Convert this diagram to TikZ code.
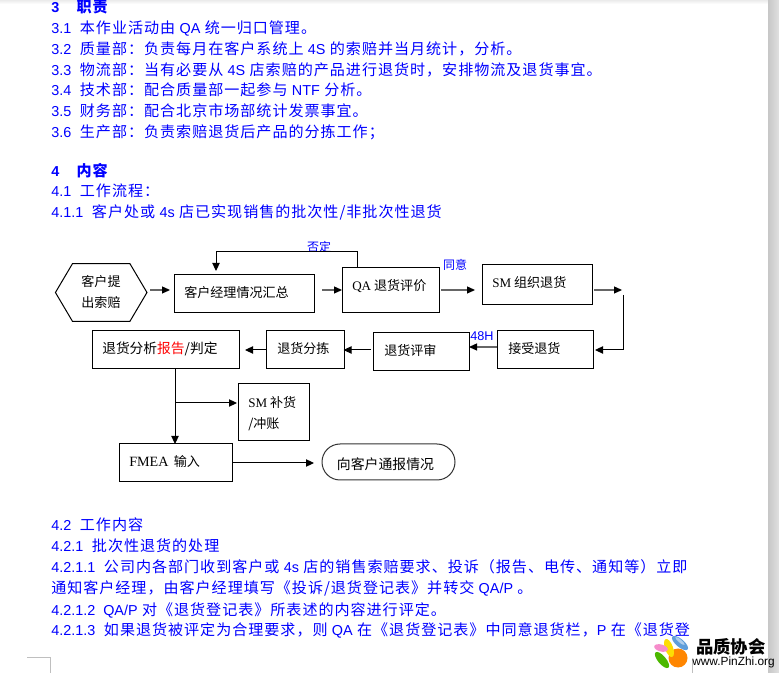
\documentclass[tikz,border=0pt]{standalone}
\usepackage{fontspec}
\setmainfont{Noto Sans CJK SC}
\newfontfamily\docf[LetterSpace=6.5]{Noto Sans CJK SC}
\newfontfamily\latA{Liberation Sans}
\newfontfamily\latB{Liberation Serif}
\newcommand{\la}[1]{{\fontsize{10.8}{12}\selectfont\latA #1}}
\newcommand{\lb}[1]{{\latB #1}}
\newcommand{\numgap}{\hspace{6.5pt}}
\definecolor{wordblue}{RGB}{0,0,255}
\usetikzlibrary{arrows.meta,shapes.geometric,shapes.misc}
\tikzset{
  doc/.style={anchor=base west,inner sep=0pt,text=wordblue,font=\fontsize{11.3}{12}\selectfont\docf},
  head/.style={doc,font=\fontsize{11.3}{12}\selectfont\docf\bfseries},
  boxnode/.style={draw=black,line width=0.75pt,inner sep=0pt,rectangle,font=\fontsize{9.8}{12}\selectfont},
  boxtext/.style={inner sep=0pt,anchor=base west,font=\fontsize{9.8}{12}\selectfont},
  conn/.style={line width=0.75pt,draw=black,-{Triangle[length=6pt,width=5.5pt]}},
  gconn/.style={line width=1.3pt,draw=black!60,-{Triangle[length=6pt,width=5.5pt,color=black,fill=black,line width=0pt]}},
  lbl/.style={inner sep=0pt,text=wordblue,font=\fontsize{9}{11}\selectfont},
}
\begin{document}
\begin{tikzpicture}[x=0.75pt,y=-0.75pt]
\useasboundingbox (0,0) rectangle (779,673);
\fill[white] (0,0) rectangle (779,673);
\shade[top color=black!8,bottom color=white] (0,0) rectangle (768,4);
\shade[left color=black!22,right color=black!12] (768,0) rectangle (779,673);
% text lines
\node[head] (t3) at (51,13) {\la{\bfseries 3}\hspace{13pt}职责};
\node[doc] (t31) at (51,34) {\la{3.1}\numgap 本作业活动由 \la{QA} 统一归口管理。};
\node[doc] (t32) at (51,55) {\la{3.2}\numgap 质量部：负责每月在客户系统上 \la{4S} 的索赔并当月统计，分析。};
\node[doc] (t33) at (51,76) {\la{3.3}\numgap 物流部：当有必要从 \la{4S} 店索赔的产品进行退货时，安排物流及退货事宜。};
\node[doc] (t34) at (51,96) {\la{3.4}\numgap 技术部：配合质量部一起参与 \la{NTF} 分析。};
\node[doc] (t35) at (51,117) {\la{3.5}\numgap 财务部：配合北京市场部统计发票事宜。};
\node[doc] (t36) at (51,138) {\la{3.6}\numgap 生产部：负责索赔退货后产品的分拣工作；};
\node[head] (t4) at (51,177) {\la{\bfseries 4}\hspace{13pt}内容};
\node[doc] (t41) at (51,197) {\la{4.1}\numgap 工作流程：};
\node[doc] (t411) at (51,218) {\la{4.1.1}\numgap 客户处或 \la{4s} 店已实现销售的批次性/非批次性退货};
\node[doc] (t42) at (51,531) {\la{4.2}\numgap 工作内容};
\node[doc] (t421) at (51,552) {\la{4.2.1}\numgap 批次性退货的处理};
\node[doc] (t4211) at (51,573) {\la{4.2.1.1}\numgap 公司内各部门收到客户或 \la{4s} 店的销售索赔要求、投诉（报告、电传、通知等）立即};
\node[doc] (t4211b) at (51,594) {通知客户经理，由客户经理填写《投诉/退货登记表》并转交 \la{QA/P} 。};
\node[doc] (t4212) at (51,615) {\la{4.2.1.2\hspace{3pt} QA/P} 对《退货登记表》所表述的内容进行评定。};
\node[doc] (t4213) at (51,635) {\la{4.2.1.3}\numgap 如果退货被评定为合理要求，则 \la{QA} 在《退货登记表》中同意退货栏，\la{P} 在《退货登};
% flow nodes
\node[inner sep=0pt,minimum width=68.25pt,minimum height=42.75pt] (hex) at (101.2,292.5) {};
\draw[line width=0.75pt] (hex.west) -- ([xshift=12.75pt]hex.north west) -- ([xshift=-12.75pt]hex.north east) -- (hex.east) -- ([xshift=-12.75pt]hex.south east) -- ([xshift=12.75pt]hex.south west) -- cycle;
\node[boxtext,anchor=center] (hext1) at (101,282) {客户提};
\node[boxtext,anchor=center] (hext2) at (101,303) {出索赔};
\node[boxnode,minimum width=105pt,minimum height=28.5pt] (b1) at (244,294) {};
\node[boxtext] at (184,298) {客户经理情况汇总};
\node[boxnode,minimum width=72.75pt,minimum height=33.75pt] (qa) at (390.5,290.5) {};
\node[boxtext] at (352,291) {\lb{QA} 退货评价};
\node[boxnode,minimum width=82.5pt,minimum height=30pt] (sm) at (537,285) {};
\node[boxtext] at (492,288) {\lb{SM} 组织退货};
\node[boxnode,minimum width=72pt,minimum height=28.5pt] (rcv) at (545,350) {};
\node[boxtext] at (508,354) {接受退货};
\node[boxnode,minimum width=72pt,minimum height=28.5pt] (rev) at (421,352) {};
\node[boxtext] at (384,356) {退货评审};
\node[boxnode,minimum width=58.5pt,minimum height=28.5pt] (sort) at (305,350) {};
\node[boxtext] at (277,354) {退货分拣};
\node[boxnode,minimum width=110.25pt,minimum height=28.5pt] (ana) at (165.5,350) {};
\node[boxtext,font=\fontsize{10.3}{12}\selectfont] at (102,354) {退货分析\textcolor{red}{报告}/判定};
\node[boxnode,minimum width=53.25pt,minimum height=42.75pt] (bu) at (273.5,412.5) {};
\node[boxtext] at (248,408) {\lb{SM} 补货};
\node[boxtext] at (248,429) {/冲账};
\node[boxnode,minimum width=84.75pt,minimum height=28.5pt] (fm) at (175.5,463) {};
\node[boxtext] at (129,467) {{\fontsize{10.6}{12}\selectfont\latB FMEA}\hspace{4pt}输入};
\node[draw=black!80,line width=0.75pt,rounded rectangle,minimum width=99.75pt,minimum height=27pt,inner sep=0pt] (oval) at (388.5,462) {};
\node[boxtext,anchor=center,font=\fontsize{10.4}{12}\selectfont] (ovalt) at (385.5,464) {向客户通报情况};
% labels
\node[lbl] (no) at (319,247) {否定};
\node[lbl] (yes) at (455,265) {同意};
\node[lbl,font=\fontsize{9.5}{11}\selectfont\latA] (h48) at (482,336) {48H};
% free ends
\coordinate (a0) at (150,290); \coordinate (a1) at (170,290);
\coordinate (c0) at (322,290); \coordinate (c1) at (342,290);
\coordinate (d0) at (441,290); \coordinate (d1) at (475,290);
\coordinate (e0) at (594,290); \coordinate (e1) at (622,290);
\coordinate (f0) at (623,295); \coordinate (f1) at (623,350); \coordinate (f2) at (595,350);
\coordinate (g0) at (497,347); \coordinate (g1) at (469,347);
\coordinate (h0) at (371,350); \coordinate (h1) at (343.5,350);
\coordinate (i0) at (266,350); \coordinate (i1) at (245,350);
\coordinate (j0) at (175,369); \coordinate (j1) at (175,444); \coordinate (j2) at (175,403); \coordinate (j3) at (237,403);
\coordinate (k0) at (232,463); \coordinate (k1) at (314,463);
\coordinate (l0) at (357,268); \coordinate (l1) at (357,252); \coordinate (l2) at (216,252); \coordinate (l3) at (216,271);
\draw[gconn] (a0) -- (a1);
\draw[gconn] (c0) -- (c1);
\draw[gconn] (d0) -- (d1);
\draw[gconn] (e0) -- (e1);
\draw[conn] (f0) -- (f1) -- (f2);
\draw[gconn] (g0) -- (g1);
\draw[conn] (h0) -- (h1);
\draw[conn] (i0) -- (i1);
\draw[conn] (j0) -- (j1);
\draw[conn] (j2) -- (j3);
\draw[conn] (k0) -- (k1);
\draw[conn] (l0) -- (l1) -- (l2) -- (l3);
% page marks
\draw[black!25,line width=0.75pt] (27,657) -- (50,657) -- (50,673);
\draw[black!25,line width=0.75pt] (692,660) -- (692,673);
% logo
\fill[orange!95!yellow] (678,658) circle (9.5);
\fill[yellow!80!orange,rotate around={20:(669,648)}] (669,648) ellipse (4 and 9.5);
\fill[green!60!black!70!yellow,rotate around={40:(662,660)}] (662,660) ellipse (4 and 10);
\fill[cyan!60!blue!65,rotate around={50:(680,643)}] (680,643) ellipse (4 and 10);
\fill[magenta!45,rotate around={75:(661,648)}] (661,648) ellipse (3.5 and 7);
\fill[white,opacity=0.5,rotate around={50:(680,641)}] (680,641) ellipse (1.5 and 6);
\node[inner sep=0pt,anchor=west,font=\fontsize{13}{14}\selectfont\bfseries] (lg1) at (696,647) {品质协会};
\node[inner sep=0pt,anchor=west,font=\fontsize{8.9}{10}\selectfont\latA] (lg2) at (692,662) {www.PinZhi.org};
\end{tikzpicture}
\end{document}
